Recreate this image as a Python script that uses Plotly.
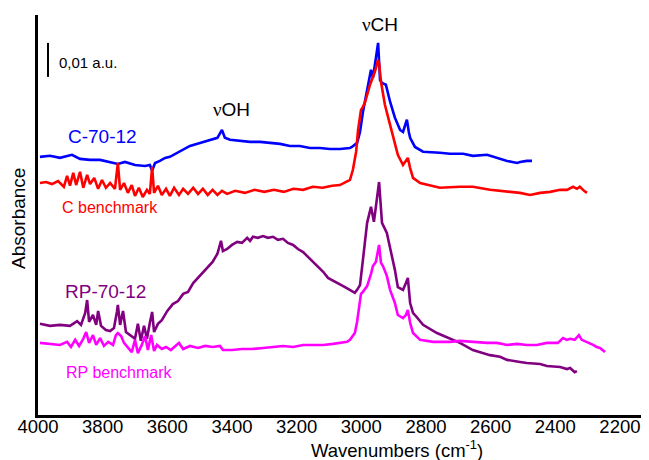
import plotly.graph_objects as go

# Wavenumbers (cm-1) and offset absorbance values (in 0.001 a.u.)
c70_wn = [3994, 3963, 3932, 3895, 3870, 3839, 3808, 3777, 3753, 3731, 3700, 3669, 3654, 3647, 3638,
          3623, 3607, 3592, 3561, 3530, 3499, 3468, 3445, 3431, 3422, 3406, 3375, 3344, 3313, 3282,
          3251, 3221, 3190, 3159, 3128, 3097, 3066, 3035, 3029, 3013, 3004, 2995, 2985, 2979, 2970,
          2964, 2955, 2948, 2942, 2936, 2924, 2911, 2896, 2880, 2871, 2865, 2859, 2853, 2849, 2834,
          2809, 2757, 2726, 2685, 2655, 2611, 2580, 2571, 2549, 2518, 2509, 2488, 2472]
c70_abs = [75.9, 76.2, 75.6, 76.5, 75.3, 75.0, 75.0, 74.4, 73.8, 74.4, 73.5, 73.2, 73.5, 71.8, 74.1,
           74.7, 75.6, 75.9, 77.6, 79.1, 80.0, 80.9, 81.5, 83.8, 81.5, 80.9, 80.6, 80.3, 80.3, 80.0,
           79.7, 79.1, 79.1, 78.5, 78.5, 78.2, 78.2, 78.5, 78.8, 80.0, 83.2, 89.1, 94.1, 97.1, 101.5,
           99.1, 104.4, 109.4, 98.5, 97.6, 97.1, 92.1, 87.4, 83.8, 83.2, 85.3, 86.8, 83.2, 81.5, 78.8,
           77.4, 77.1, 76.8, 76.8, 76.2, 76.5, 75.6, 75.3, 74.7, 74.1, 74.4, 74.7, 74.7]

cbench_wn = [3994, 3975, 3957, 3938, 3920, 3910, 3901, 3891, 3882, 3870, 3860, 3848, 3839, 3826, 3814,
             3802, 3790, 3777, 3762, 3753, 3746, 3734, 3722, 3710, 3700, 3688, 3676, 3663, 3654, 3647,
             3641, 3629, 3617, 3604, 3592, 3579, 3564, 3551, 3536, 3520, 3505, 3490, 3475, 3460, 3445,
             3431, 3415, 3390, 3360, 3330, 3300, 3270, 3240, 3210, 3180, 3150, 3120, 3090, 3066, 3044,
             3035, 3026, 3020, 3016, 3010, 3001, 2995, 2989, 2973, 2958, 2948, 2945, 2939, 2927, 2911,
             2896, 2887, 2871, 2856, 2849, 2840, 2818, 2788, 2757, 2695, 2655, 2602, 2549, 2509, 2478,
             2447, 2416, 2385, 2364, 2345, 2333, 2324, 2311, 2302]
cbench_abs = [68.2, 68.5, 67.9, 68.8, 67.1, 70.3, 67.4, 71.2, 67.6, 71.5, 66.8, 70.6, 67.9, 69.7, 66.5,
              69.1, 66.8, 68.2, 66.5, 74.1, 66.2, 68.2, 65.3, 67.6, 64.4, 66.8, 64.1, 66.2, 65.0, 72.9,
              65.3, 67.4, 64.7, 66.5, 64.4, 66.8, 64.7, 66.5, 65.0, 66.8, 65.0, 66.5, 64.7, 66.2, 64.7,
              65.9, 65.0, 65.9, 65.3, 66.2, 65.6, 66.2, 65.6, 66.5, 66.2, 67.1, 66.8, 67.4, 67.6, 68.5,
              69.1, 72.1, 74.7, 77.4, 83.8, 89.7, 90.6, 91.8, 97.1, 100.9, 104.4, 103.5, 97.9, 91.2, 85.3,
              80.3, 76.5, 73.5, 75.6, 72.6, 69.7, 68.2, 67.4, 66.8, 67.1, 67.1, 66.2, 65.6, 65.3, 64.7,
              65.3, 65.6, 66.2, 66.2, 67.1, 66.5, 67.1, 65.9, 65.3]

rp70_wn = [3994, 3963, 3932, 3901, 3879, 3867, 3854, 3848, 3842, 3830, 3820, 3814, 3805, 3790, 3777,
           3765, 3756, 3753, 3746, 3737, 3728, 3716, 3700, 3691, 3682, 3672, 3663, 3654, 3647, 3641,
           3629, 3617, 3600, 3583, 3567, 3551, 3536, 3520, 3505, 3490, 3475, 3460, 3445, 3434, 3428,
           3415, 3400, 3384, 3369, 3353, 3344, 3335, 3320, 3304, 3289, 3273, 3258, 3242, 3227, 3211,
           3196, 3180, 3165, 3149, 3134, 3118, 3103, 3087, 3072, 3056, 3041, 3026, 3020, 3013, 3004,
           2995, 2982, 2970, 2961, 2945, 2939, 2936, 2921, 2911, 2896, 2887, 2871, 2862, 2856, 2849,
           2840, 2834, 2809, 2766, 2735, 2695, 2655, 2633, 2602, 2571, 2549, 2509, 2488, 2447, 2426,
           2385, 2364, 2354, 2340, 2333]
rp70_abs = [26.8, 26.2, 26.5, 26.2, 27.6, 26.5, 30.0, 33.8, 27.4, 29.4, 26.5, 30.6, 26.2, 25.0, 24.7,
            25.6, 30.3, 32.4, 26.5, 30.6, 24.4, 23.5, 22.4, 26.8, 21.8, 26.2, 22.4, 27.1, 30.3, 24.4,
            26.8, 27.9, 30.6, 32.6, 33.5, 35.6, 36.2, 38.8, 40.3, 42.1, 43.5, 45.0, 47.4, 51.2, 48.2,
            48.8, 50.0, 50.9, 50.6, 52.1, 51.2, 52.4, 52.1, 52.6, 52.1, 52.4, 51.5, 51.8, 50.6, 50.0,
            48.8, 47.9, 46.5, 45.0, 43.5, 42.1, 40.3, 39.4, 38.8, 37.9, 37.1, 36.2, 35.9, 36.8, 38.2,
            45.6, 56.5, 61.2, 56.8, 68.5, 59.0, 56.5, 53.5, 49.1, 42.6, 37.6, 36.8, 38.8, 40.3, 32.9,
            30.0, 29.4, 26.5, 24.1, 22.9, 21.2, 19.1, 18.5, 17.6, 17.1, 16.2, 15.6, 15.3, 15.0, 14.4,
            14.1, 13.5, 13.8, 12.6, 12.9]

rpbench_wn = [3994, 3963, 3932, 3910, 3898, 3885, 3873, 3860, 3851, 3842, 3830, 3820, 3808, 3796, 3783,
              3768, 3759, 3753, 3743, 3734, 3722, 3710, 3700, 3691, 3679, 3669, 3660, 3650, 3641, 3632,
              3617, 3604, 3589, 3576, 3564, 3551, 3530, 3505, 3483, 3460, 3437, 3428, 3400, 3369, 3338,
              3304, 3273, 3242, 3211, 3180, 3149, 3118, 3087, 3066, 3044, 3035, 3026, 3020, 3013, 3007,
              3001, 2995, 2982, 2970, 2964, 2955, 2945, 2939, 2933, 2921, 2911, 2896, 2887, 2871, 2862,
              2856, 2849, 2840, 2818, 2778, 2726, 2695, 2655, 2611, 2580, 2549, 2518, 2488, 2457, 2426,
              2392, 2376, 2364, 2354, 2340, 2327, 2318, 2302, 2283, 2272, 2262, 2246]
rpbench_abs = [21.2, 20.9, 20.6, 21.5, 20.0, 22.1, 20.3, 22.4, 24.4, 21.2, 23.5, 20.6, 22.6, 20.3, 21.5,
               20.6, 23.5, 24.1, 23.2, 21.2, 19.7, 18.5, 22.1, 18.2, 20.6, 23.2, 19.1, 23.5, 18.8, 20.6,
               19.4, 20.0, 19.1, 20.3, 21.2, 19.4, 20.3, 19.7, 20.3, 20.0, 20.3, 19.1, 19.1, 19.4, 19.4,
               19.7, 20.0, 20.3, 20.0, 20.6, 20.6, 20.6, 20.9, 21.2, 21.5, 22.1, 23.2, 24.1, 27.4, 32.4,
               35.6, 36.2, 37.9, 41.5, 43.8, 45.0, 50.0, 44.7, 43.8, 40.9, 36.8, 32.9, 29.4, 28.5, 29.4,
               30.9, 27.1, 24.1, 22.1, 21.5, 21.5, 21.8, 21.5, 21.2, 21.2, 20.6, 20.9, 20.6, 20.6, 21.2,
               21.2, 22.6, 22.1, 22.4, 22.1, 23.5, 22.1, 21.5, 20.6, 20.0, 19.7, 18.5]

x_ticks = [4000, 3800, 3600, 3400, 3200, 3000, 2800, 2600, 2400, 2200]

FONT = "Liberation Sans, Arial, sans-serif"
NU = "<span style='font-family:Liberation Serif, Times New Roman, serif'>ν</span>"

fig = go.Figure()
series = [
    (c70_wn, c70_abs, "#0000FF", "C-70-12"),
    (cbench_wn, cbench_abs, "#FF0000", "C benchmark"),
    (rp70_wn, rp70_abs, "#800080", "RP-70-12"),
    (rpbench_wn, rpbench_abs, "#FF00FF", "RP benchmark"),
]
for wn, ab, col, name in series:
    fig.add_trace(go.Scatter(x=wn, y=ab, mode="lines", name=name,
                             line=dict(color=col, width=2.6), showlegend=False,
                             hoverinfo="skip"))

# scale bar 0,01 a.u. = 10 units
fig.add_shape(type="line", xref="x", yref="y", x0=3969, x1=3969, y0=99.4, y1=109.4,
              line=dict(color="black", width=2))

annots = [
    dict(x=3941, y=103.5, text="0,01 a.u.", size=15, color="black", xanchor="left"),
    dict(x=3400, y=89.7, text=NU + "OH", size=19, color="black", xanchor="center"),
    dict(x=2942, y=114.7, text=NU + "CH", size=19, color="black", xanchor="center"),
    dict(x=3802, y=81.8, text="C-70-12", size=19, color="#0000FF", xanchor="center"),
    dict(x=3777, y=60.9, text="C benchmark", size=16, color="#FF0000", xanchor="center"),
    dict(x=3790, y=36.2, text="RP-70-12", size=19, color="#800080", xanchor="center"),
    dict(x=3749, y=12.6, text="RP benchmark", size=16, color="#FF00FF", xanchor="center"),
]
for a in annots:
    fig.add_annotation(x=a["x"], y=a["y"], xref="x", yref="y", text=a["text"], showarrow=False,
                       xanchor=a["xanchor"], yanchor="middle",
                       font=dict(family=FONT, size=a["size"], color=a["color"]))

# axis titles (paper coordinates)
fig.add_annotation(x=0.5914, y=-0.085, xref="paper", yref="paper",
                   text="Wavenumbers (cm<sup>-1</sup>)", showarrow=False,
                   xanchor="center", yanchor="middle",
                   font=dict(family=FONT, size=18.5, color="black"))
fig.add_annotation(x=-0.033, y=0.4925, xref="paper", yref="paper",
                   text="Absorbance", showarrow=False, textangle=-90,
                   xanchor="center", yanchor="middle",
                   font=dict(family=FONT, size=19, color="black"))

# The page body adds an 8 px margin, so the figure is offset by 8 px
fig.update_layout(
    width=641, height=452,
    margin=dict(l=30, r=4, t=7, b=45),
    paper_bgcolor="white", plot_bgcolor="white",
    font=dict(family=FONT, color="black"),
    xaxis=dict(range=[4000, 2122.5], tickvals=x_ticks, ticktext=[str(t) for t in x_ticks],
               showgrid=False, zeroline=False, showline=True, linecolor="black", linewidth=3,
               ticks="", ticklen=0, ticklabelstandoff=-7, tickfont=dict(size=18.5, color="black"),
               automargin=False),
    yaxis=dict(range=[0, 117.6], showticklabels=False, showgrid=False, zeroline=False,
               showline=True, linecolor="black", linewidth=3, ticks="",
               automargin=False),
)

fig.write_html("out.html")
